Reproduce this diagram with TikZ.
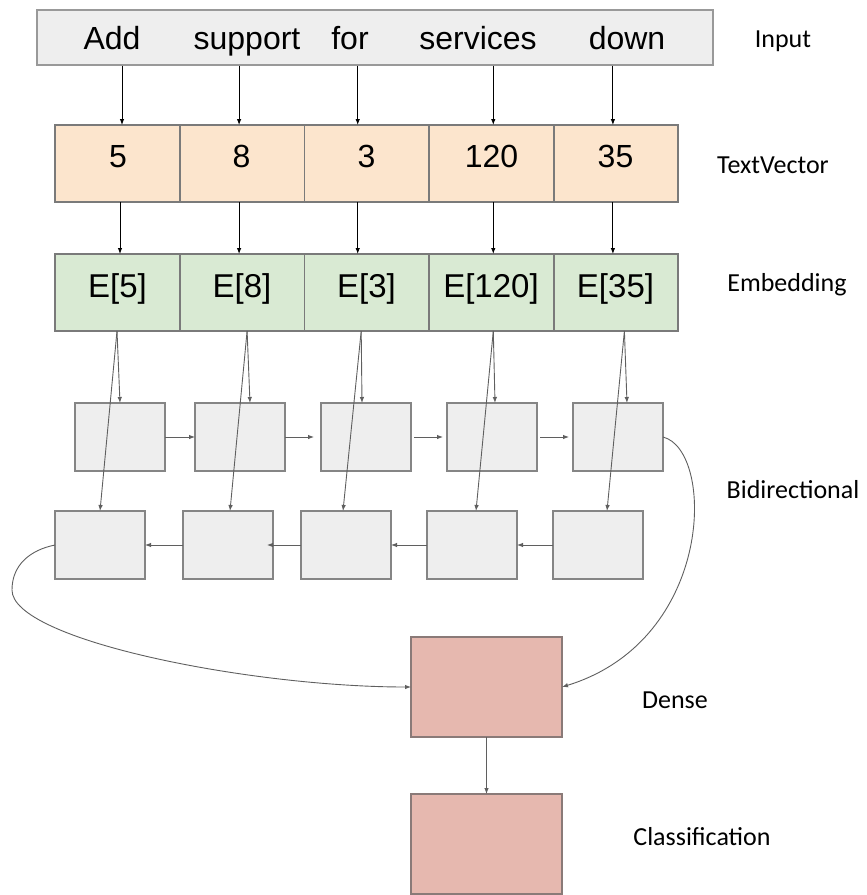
\documentclass[tikz,border=0pt]{standalone}
\usepackage{fontspec}
\setmainfont{Carlito}
\newfontfamily\boxfont{Liberation Sans}
\usetikzlibrary{arrows.meta,calc}

\definecolor{inputfill}{HTML}{EEEEEE}
\definecolor{inputline}{HTML}{999999}
\definecolor{vecfill}{HTML}{FCE5CD}
\definecolor{embfill}{HTML}{D9EAD3}
\definecolor{rowline}{HTML}{7A7A7A}
\definecolor{rnnfill}{HTML}{EEEEEE}
\definecolor{rnnline}{HTML}{858585}
\definecolor{densefill}{HTML}{E6B8AF}
\definecolor{denseline}{HTML}{8A7A78}
\definecolor{wire}{HTML}{5F5F5F}

\tikzset{
  cellbox/.style={draw=rowline, line width=1.8pt, inner sep=0pt, outer sep=0pt,
                  minimum width=124.6pt, minimum height=77pt},
  veccell/.style={cellbox, fill=vecfill},
  embcell/.style={cellbox, fill=embfill},
  rnnbox/.style={draw=rnnline, line width=1.3pt, fill=rnnfill, inner sep=0pt,
                 outer sep=0pt, minimum width=90pt, minimum height=68pt},
  layerbox/.style={draw=denseline, line width=1.3pt, fill=densefill, inner sep=0pt,
                   outer sep=0pt, minimum width=151pt, minimum height=100pt},
  word/.style={font=\boxfont\fontsize{32}{36}\selectfont, anchor=base, inner sep=0pt},
  numtxt/.style={font=\boxfont\fontsize{32}{36}\selectfont, anchor=base, inner sep=0pt},
  embtxt/.style={font=\boxfont\fontsize{33}{38}\selectfont, anchor=base, inner sep=0pt},
  layertxt/.style={font=\fontsize{26}{30}\selectfont, anchor=base, inner sep=0pt},
  karrow/.style={draw=black, line width=0.9pt, -{Latex[length=6pt,width=4.5pt]}},
  garrow/.style={draw=wire, line width=0.9pt, -{Latex[length=6pt,width=4.5pt]}},
}

\begin{document}
\begin{tikzpicture}[x=1pt, y=-1pt]
\useasboundingbox (0,0) rectangle (867,895);

% input sentence
\node[draw=inputline, line width=1.3pt, fill=inputfill, minimum width=676pt,
      minimum height=55pt, inner sep=0pt] (inp) at (375,37.5) {};
\node[word] (w1) at (112,49) {Add};
\node[word] (w2) at (247,49) {support};
\node[word] (w3) at (350,49) {for};
\node[word] (w4) at (478,49) {services};
\node[word] (w5) at (627,49) {down};

% token ids
\foreach \i in {1,...,5}{
  \node[veccell] (tv\i) at ({117.5+124.6*(\i-1)},163.5) {};
}
\node[numtxt] (n1) at (118,167) {5};
\node[numtxt] (n2) at (241.5,167) {8};
\node[numtxt] (n3) at (366.5,167) {3};
\node[numtxt] (n4) at (491.5,167) {120};
\node[numtxt] (n5) at (615.5,167) {35};

% embedding lookups
\foreach \i in {1,...,5}{
  \node[embcell] (em\i) at ({117.5+124.6*(\i-1)},292.5) {};
}
\node[embtxt] (t1) at (117.5,297) {E[5]};
\node[embtxt] (t2) at (242,297) {E[8]};
\node[embtxt] (t3) at (366.5,297) {E[3]};
\node[embtxt] (t4) at (491,297) {E[120]};
\node[embtxt] (t5) at (615.5,297) {E[35]};

% recurrent cells, forward and backward
\node[rnnbox] (f1) at (120,437) {};
\node[rnnbox] (f2) at (240,437) {};
\node[rnnbox] (f3) at (366,437) {};
\node[rnnbox] (f4) at (492,437) {};
\node[rnnbox] (f5) at (618,437) {};
\node[rnnbox] (b1) at (100,545) {};
\node[rnnbox] (b2) at (228,545) {};
\node[rnnbox] (b3) at (346,545) {};
\node[rnnbox] (b4) at (472,545) {};
\node[rnnbox] (b5) at (598,545) {};

% output layers
\node[layerbox] (dense) at (486.5,687) {};
\node[layerbox] (cls) at (486.5,844) {};

% layer names
\node[layertxt] (lin) at (783,47) {Input};
\node[layertxt] (ltv) at (773,173) {TextVector};
\node[layertxt] (lem) at (787,291) {Embedding};
\node[layertxt] (lbi) at (793,498) {Bidirectional};
\node[layertxt] (lde) at (675,708) {Dense};
\node[layertxt] (lcl) at (702,845) {Classification};

% words to ids
\foreach \i/\s in {1/4.5,2/-3,3/-9,4/2,5/-3}{
  \draw[karrow] ([xshift=\s pt]tv\i.north |- inp.south) -- ([xshift=\s pt]tv\i.north);
}
% ids to embeddings
\foreach \i/\s in {1/2.5,2/-3,3/-9,4/2,5/-3}{
  \draw[karrow] ([xshift=\s pt]tv\i.south) -- ([xshift=\s pt]em\i.north);
}
% embeddings into both directions
\foreach \i/\a/\b/\c in {1/-0.5/0/0, 2/5/10/2, 3/-5.5/-4/-3, 4/2/3/4, 5/8.5/9/9}{
  \draw[garrow] ([xshift=\a pt]em\i.south) -- ([xshift=\b pt]f\i.north);
  \draw[garrow] ([xshift=\a pt]em\i.south) -- ([xshift=\c pt]b\i.north);
}
% forward chain
\draw[garrow] (f1.east) -- (f2.west);
\draw[garrow] (f2.east) -- ([xshift=-7pt]f3.west);
\draw[garrow] ([xshift=3pt]f3.east) -- ([xshift=-4pt]f4.west);
\draw[garrow] ([xshift=3pt]f4.east) -- ([xshift=-4pt]f5.west);
% backward chain
\draw[garrow] (b2.west) -- (b1.east);
\draw[garrow] (b3.west) -- ([xshift=-6pt]b2.east);
\draw[garrow] (b4.west) -- (b3.east);
\draw[garrow] (b5.west) -- (b4.east);

% final states into the dense layer
\draw[garrow] (f5.east) .. controls (715,450) and (715,640) .. (dense.east);
\draw[garrow] (b1.west) .. controls (30,550) and (12,565) .. (12,590)
              .. controls (12,640) and (250,687) .. (dense.west);
\draw[garrow] (dense.south) -- (cls.north);
\end{tikzpicture}
\end{document}
